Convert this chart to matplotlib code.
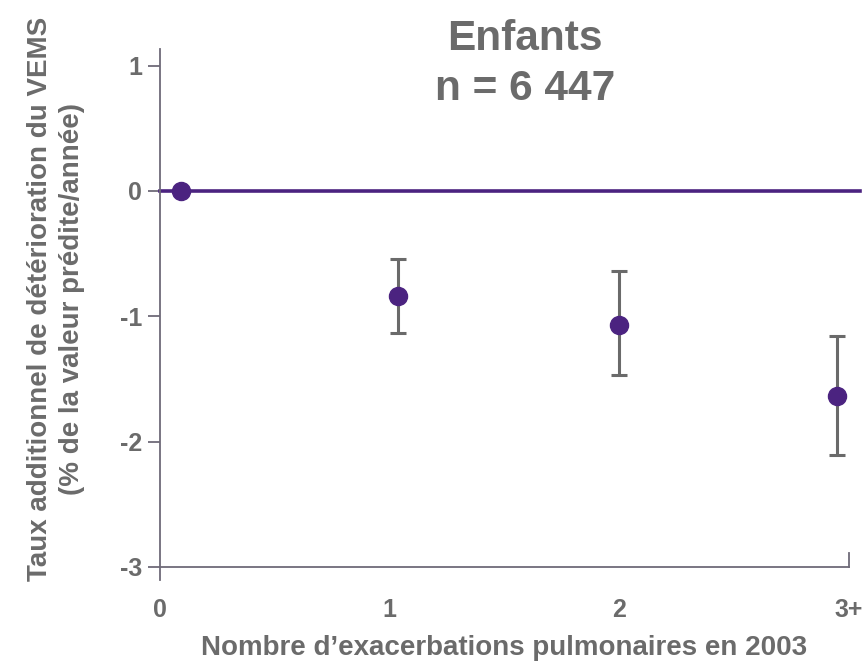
import matplotlib.pyplot as plt

# --- Data ---
categories = ["0", "1", "2", "3+"]
x_pos = [0.09, 1.035, 2.0, 2.95]
estimates = [0.0, -0.84, -1.07, -1.64]
ci_low = [0.0, -1.13, -1.47, -2.11]
ci_high = [0.0, -0.54, -0.64, -1.16]
y_ticks = [1, 0, -1, -2, -3]

PURPLE = "#4b2380"
GREY_TXT = "#6b6b6b"
GREY_AX = "#6e6a78"
GREY_BAR = "#6a6a6a"

plt.rcParams.update({
    "font.family": ["Liberation Sans", "DejaVu Sans"],
    "font.weight": "bold",
})

fig = plt.figure(figsize=(8.67, 6.65), dpi=100)
ax = fig.add_axes([0.1845, 0.1474, 0.7945, 0.7786])

# reference line at zero, runs past the end of the x axis
ax.plot([0, 3.05], [0, 0], color=PURPLE, lw=2.6, zorder=2, clip_on=False)

# error bars only where an interval exists
err_lo = [e - l for e, l in zip(estimates, ci_low)]
err_hi = [h - e for e, h in zip(estimates, ci_high)]
ax.errorbar(x_pos[1:], estimates[1:], yerr=[err_lo[1:], err_hi[1:]],
            fmt="none", ecolor=GREY_BAR, elinewidth=2.2, capsize=5.5,
            capthick=2.2, zorder=3)
ax.plot(x_pos, estimates, "o", color=PURPLE, ms=13, zorder=4, clip_on=False)

ax.set_xlim(0, 3)
ax.set_ylim(-3, 1.13)

ax.spines["top"].set_visible(False)
# y axis continues a little below the x axis
ax.spines["left"].set_bounds(-3.1, 1.13)
ax.spines["right"].set_bounds(-3, -2.89)
for side in ("left", "bottom", "right"):
    ax.spines[side].set_color(GREY_AX)
    ax.spines[side].set_linewidth(1.3)

ax.set_yticks(y_ticks)
ax.set_yticklabels([str(v) for v in y_ticks])
ax.tick_params(axis="y", direction="out", length=9, width=1.3,
               color=GREY_AX, labelsize=18, labelcolor=GREY_TXT, pad=4)

ax.set_xticks([0, 1, 2, 3])
ax.set_xticklabels(categories)
ax.tick_params(axis="x", which="major", length=0, labelsize=18,
               labelcolor=GREY_TXT, pad=22)
ax.set_xticks([1, 2], minor=True)
ax.tick_params(axis="x", which="minor", direction="out", length=9,
               width=1.3, color=GREY_AX)
for lbl in ax.get_xticklabels() + ax.get_yticklabels():
    lbl.set_fontweight("bold")

ax.set_xlabel("Nombre d\u2019exacerbations pulmonaires en 2003",
              fontsize=20, color=GREY_TXT, fontweight="bold", labelpad=10)
ax.set_ylabel("Taux additionnel de détérioration du VEMS\n"
              "(% de la valeur prédite/année)",
              fontsize=20, color=GREY_TXT, fontweight="bold",
              labelpad=25, linespacing=1.3)
ax.yaxis.label.set_y(0.517)

fig.text(0.6055, 0.972, "Enfants\nn = 6 447",
         ha="center", va="top", fontsize=30.5, color=GREY_TXT,
         fontweight="bold", linespacing=1.32)

fig.savefig("out.png", dpi=100)
